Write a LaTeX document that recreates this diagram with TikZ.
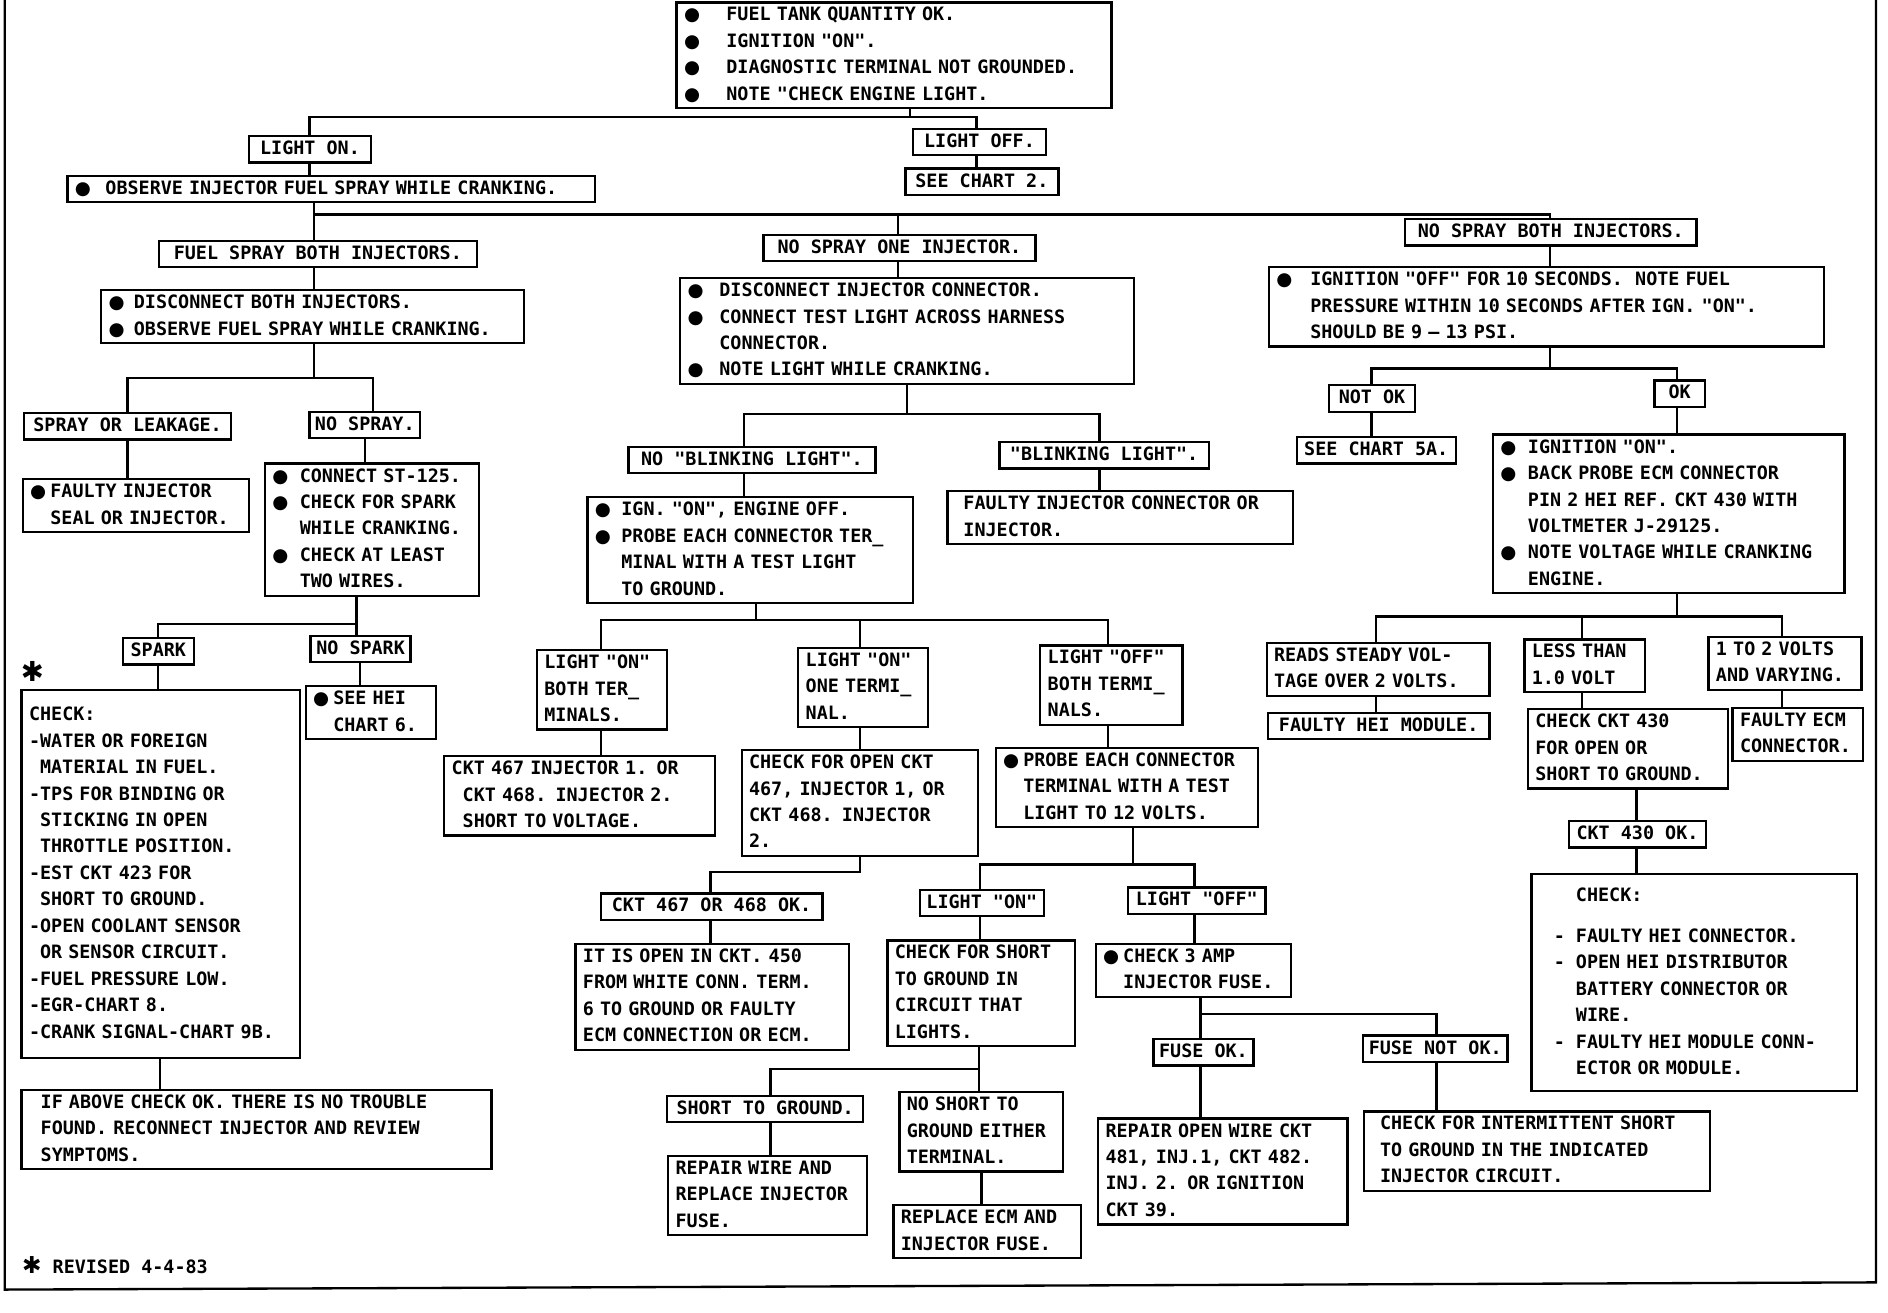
\documentclass[tikz,border=0pt]{standalone}
\usepackage{fontspec}
\setmainfont{DejaVu Sans Mono}[Ligatures=TeXOff]
\newfontfamily\symfont{DejaVu Sans}
\newcommand{\chartfont}{\fontsize{8.7}{12.5}\selectfont\bfseries}
\newcommand{\bl}[1][12.5pt]{\makebox[#1][l]{{\symfont ●}}}
\newcommand{\ind}[1][12.5pt]{\hspace*{#1}}
\newcommand{\dl}{\hspace*{7pt}\makebox[10.5pt][l]{-}}
\hyphenpenalty=10000
\exhyphenpenalty=10000
\tikzset{
  box/.style={draw, line width=1.1pt, anchor=north west, align=left,
    inner xsep=3.5pt, inner ysep=0pt, minimum height=0.44cm, font=\chartfont,
    execute at begin node=\strut, execute at end node=\strut},
  lbl/.style={draw, line width=1.1pt, anchor=north west, align=center,
    inner xsep=2pt, inner ysep=0pt, minimum height=0.44cm, font=\chartfont,
    execute at begin node=\strut},
  line/.style={line width=1.1pt},
  tw/.code={\pgfmathsetlengthmacro\bxw{#1*0.02cm-7pt}\tikzset{text width/.expanded=\bxw}},
  wd/.code={\pgfmathsetlengthmacro\bxw{#1*0.02cm}\tikzset{minimum width/.expanded=\bxw}}
}

\begin{document}
\begin{tikzpicture}[x=0.02cm, y=-0.02cm]
  \useasboundingbox (0,0) rectangle (1568,1090);
  % frame
  \draw[line] (4,0) -- (4,1071) -- (1558,1065) -- (1558,0);

  % top
  \node[box, tw=361] (top) at (561,1) {\bl[20pt]FUEL TANK QUANTITY OK.\\ \bl[20pt]IGNITION "ON".\\
    \bl[20pt]DIAGNOSTIC TERMINAL NOT GROUNDED.\\ \bl[20pt]NOTE "CHECK ENGINE LIGHT.};
  \node[lbl, wd=101] (lon) at (206,112) {LIGHT ON.};
  \node[lbl, wd=111] (loff) at (757,106) {LIGHT OFF.};
  \node[lbl, wd=127] (sc2) at (751,139) {SEE CHART 2.};
  \node[box, tw=438] (obs) at (55,145) {\bl[14.5pt]OBSERVE INJECTOR FUEL SPRAY WHILE CRANKING.};

  % left column
  \node[lbl, wd=264] (fsb) at (131,199) {FUEL SPRAY BOTH INJECTORS.};
  \node[box, tw=351] (dbi) at (83,240) {\bl[12pt]DISCONNECT BOTH INJECTORS.\\ \bl[12pt]OBSERVE FUEL SPRAY WHILE CRANKING.};
  \node[lbl, wd=172] (sol) at (19,342) {SPRAY OR LEAKAGE.};
  \node[lbl, wd=92] (nsp) at (256,341) {NO SPRAY.};
  \node[box, tw=188] (fis) at (18,397) {\bl[9.5pt]FAULTY INJECTOR\\ \ind[9.5pt]SEAL OR INJECTOR.};
  \node[box, tw=178] (cst) at (219,384) {\bl[13pt]CONNECT ST-125.\\ \bl[13pt]CHECK FOR SPARK\\
    \ind[13pt]WHILE CRANKING.\\ \bl[13pt]CHECK AT LEAST\\ \ind[13pt]TWO WIRES.};
  \node[lbl, wd=59] (spk) at (101,529) {SPARK};
  \node[lbl, wd=83] (nspk) at (257,527) {NO SPARK};
  \node[font={\fontsize{13}{14}\selectfont\symfont\bfseries}, inner sep=0pt] (star) at (27,558) {✱};
  \node[box, tw=231, minimum height=6.12cm] (chk) at (17,572) {CHECK:\\ -WATER OR FOREIGN\\
    \ind[5.2pt]MATERIAL IN FUEL.\\ -TPS FOR BINDING OR\\ \ind[5.2pt]STICKING IN OPEN\\
    \ind[5.2pt]THROTTLE POSITION.\\ -EST CKT 423 FOR\\ \ind[5.2pt]SHORT TO GROUND.\\
    -OPEN COOLANT SENSOR\\ \ind[5.2pt]OR SENSOR CIRCUIT.\\ -FUEL PRESSURE LOW.\\
    -EGR-CHART 8.\\ -CRANK SIGNAL-CHART 9B.};
  \node[box, tw=108] (shei) at (253,569) {\bl[9.5pt]SEE HEI\\ \ind[9.5pt]CHART 6.};
  \node[box, tw=371, inner xsep=9pt] (ifab) at (17,904) {IF ABOVE CHECK OK. THERE IS NO TROUBLE\\
    FOUND. RECONNECT INJECTOR AND REVIEW\\ SYMPTOMS.};
  \node[anchor=west, inner sep=0pt, font=\chartfont] (rev) at (18,1051) {{\fontsize{11}{12}\selectfont\symfont ✱} REVISED 4-4-83};

  % middle column
  \node[lbl, wd=226] (nso) at (633,194) {NO SPRAY ONE INJECTOR.};
  \node[box, tw=377] (dic) at (564,230) {\bl[15pt]DISCONNECT INJECTOR CONNECTOR.\\
    \bl[15pt]CONNECT TEST LIGHT ACROSS HARNESS\\ \ind[15pt]CONNECTOR.\\ \bl[15pt]NOTE LIGHT WHILE CRANKING.};
  \node[lbl, wd=205] (nbl) at (521,370) {NO "BLINKING LIGHT".};
  \node[lbl, wd=174] (bli) at (829,366) {"BLINKING LIGHT".};
  \node[box, tw=287] (fic) at (786,407) {\ind[4pt]FAULTY INJECTOR CONNECTOR OR\\ \ind[4pt]INJECTOR.};
  \node[box, tw=270] (ign) at (487,412) {\bl IGN. "ON", ENGINE OFF.\\ \bl PROBE EACH CONNECTOR TER\_\\
    \ind MINAL WITH A TEST LIGHT\\ \ind TO GROUND.};
  \node[box, tw=108] (lob) at (445,539) {LIGHT "ON"\\ BOTH TER\_\\ MINALS.};
  \node[box, tw=108] (loo) at (662,537) {LIGHT "ON"\\ ONE TERMI\_\\ NAL.};
  \node[box, tw=118] (lfb) at (863,535) {LIGHT "OFF"\\ BOTH TERMI\_\\ NALS.};
  \node[box, tw=225] (c467) at (368,627) {CKT 467 INJECTOR 1. OR\\ \ind[5.2pt]CKT 468. INJECTOR 2.\\
    \ind[5.2pt]SHORT TO VOLTAGE.};
  \node[box, tw=196] (cfo) at (615,622) {CHECK FOR OPEN CKT\\ 467, INJECTOR 1, OR\\ CKT 468. INJECTOR\\ 2.};
  \node[box, tw=218] (pec) at (826,620) {\bl[9.5pt]PROBE EACH CONNECTOR\\ \ind[9.5pt]TERMINAL WITH A TEST\\
    \ind[9.5pt]LIGHT TO 12 VOLTS.};
  \node[lbl, wd=184] (c468ok) at (498,741) {CKT 467 OR 468 OK.};
  \node[box, tw=227] (iso) at (477,783) {IT IS OPEN IN CKT. 450\\ FROM WHITE CONN. TERM.\\
    6 TO GROUND OR FAULTY\\ ECM CONNECTION OR ECM.};
  \node[lbl, wd=103] (lon2) at (763,738) {LIGHT "ON"};
  \node[lbl, wd=114] (loff2) at (936,736) {LIGHT "OFF"};
  \node[box, tw=156] (cfs) at (736,780) {CHECK FOR SHORT\\ TO GROUND IN\\ CIRCUIT THAT\\ LIGHTS.};
  \node[box, tw=162] (c3a) at (909,783) {\bl[9.5pt]CHECK 3 AMP\\ \ind[9.5pt]INJECTOR FUSE.};
  \node[lbl, wd=163] (stg) at (553,909) {SHORT TO GROUND.};
  \node[box, tw=165] (rwa) at (554,959) {REPAIR WIRE AND\\ REPLACE INJECTOR\\ FUSE.};
  \node[box, tw=136] (nst) at (746,906) {NO SHORT TO\\ GROUND EITHER\\ TERMINAL.};
  \node[box, tw=156] (rei) at (741,1000) {REPLACE ECM AND\\ INJECTOR FUSE.};
  \node[lbl, wd=83] (fok) at (957,862) {FUSE OK.};
  \node[box, tw=207] (row) at (911,928) {REPAIR OPEN WIRE CKT\\ 481, INJ.1, CKT 482.\\
    INJ. 2. OR IGNITION\\ CKT 39.};
  \node[lbl, wd=120] (fnok) at (1131,859) {FUSE NOT OK.};
  \node[box, tw=287] (cfi) at (1132,922) {\ind[4pt]CHECK FOR INTERMITTENT SHORT\\
    \ind[4pt]TO GROUND IN THE INDICATED\\ \ind[4pt]INJECTOR CIRCUIT.};

  % right column
  \node[lbl, wd=242] (nsb) at (1166,181) {NO SPRAY BOTH INJECTORS.};
  \node[box, tw=461] (ign10) at (1053,221) {\bl[16pt]IGNITION "OFF" FOR 10 SECONDS.\ \ NOTE FUEL\\
    \ind[16pt]PRESSURE WITHIN 10 SECONDS AFTER IGN. "ON".\\ \ind[16pt]SHOULD BE 9 – 13 PSI.};
  \node[lbl, wd=71] (nok) at (1103,319) {NOT OK};
  \node[lbl, wd=132] (sc5) at (1076,362) {SEE CHART 5A.};
  \node[lbl, wd=42] (ok) at (1373,315) {OK};
  \node[box, tw=292] (ion) at (1239,360) {\bl[13pt]IGNITION "ON".\\ \bl[13pt]BACK PROBE ECM CONNECTOR\\
    \ind[13pt]PIN 2 HEI REF. CKT 430 WITH\\ \ind[13pt]VOLTMETER J-29125.\\
    \bl[13pt]NOTE VOLTAGE WHILE CRANKING\\ \ind[13pt]ENGINE.};
  \node[box, tw=185] (rsv) at (1051,533) {READS STEADY VOL-\\ TAGE OVER 2 VOLTS.};
  \node[lbl, wd=184] (fhm) at (1052,591) {FAULTY HEI MODULE.};
  \node[box, tw=100] (ltv) at (1265,530) {LESS THAN\\ 1.0 VOLT};
  \node[box, tw=166] (cck) at (1268,588) {CHECK CKT 430\\ FOR OPEN OR\\ SHORT TO GROUND.};
  \node[box, tw=127] (otv) at (1418,528) {1 TO 2 VOLTS\\ AND VARYING.};
  \node[box, tw=108] (fec) at (1438,587) {FAULTY ECM\\ CONNECTOR.};
  \node[lbl, wd=114] (c430ok) at (1302,681) {CKT 430 OK.};
  \node[box, tw=270, minimum height=3.6cm] (chk2) at (1271,725) {\ind[17.5pt]CHECK:\\[7pt]
    \dl FAULTY HEI CONNECTOR.\\ \dl OPEN HEI DISTRIBUTOR\\ \ind[17.5pt]BATTERY CONNECTOR OR\\
    \ind[17.5pt]WIRE.\\ \dl FAULTY HEI MODULE CONN-\\ \ind[17.5pt]ECTOR OR MODULE.};

  % light on / off
  \draw[line] (top.south -| 756,0) -- (756,97);
  \draw[line] (lon.north -| 257,0) -- (257,97) -- (811,97) -- (loff.north -| 811,0);
  \draw[line] (lon.south -| 257,0) -- (obs.north -| 257,0);
  \draw[line] (loff.south -| 811,0) -- (sc2.north -| 811,0);
  % spray branches
  \draw[line] (obs.south -| 261,0) -- (261,178);
  \draw[line] (fsb.north -| 261,0) -- (261,178) -- (1287,178) -- (nsb.north -| 1287,0);
  \draw[line] (746,178) -- (nso.north -| 746,0);
  % fuel spray both injectors
  \draw[line] (fsb.south -| 261,0) -- (dbi.north -| 261,0);
  \draw[line] (dbi.south -| 261,0) -- (261,314);
  \draw[line] (sol.north -| 106,0) -- (106,314) -- (310,314) -- (nsp.north -| 310,0);
  \draw[line] (sol.south -| 106,0) -- (fis.north -| 106,0);
  \draw[line] (nsp.south -| 303,0) -- (cst.north -| 303,0);
  \draw[line] (cst.south -| 296,0) -- (296,518);
  \draw[line] (spk.north -| 131,0) -- (131,518) -- (296,518) -- (nspk.north -| 296,0);
  \draw[line] (spk.south -| 131,0) -- (chk.north -| 131,0);
  \draw[line] (nspk.south -| 299,0) -- (shei.north -| 299,0);
  \draw[line] (chk.south -| 133,0) -- (ifab.north -| 133,0);
  % no spray one injector
  \draw[line] (nso.south -| 746,0) -- (dic.north -| 746,0);
  \draw[line] (dic.south -| 753,0) -- (753,344);
  \draw[line] (nbl.north -| 618,0) -- (618,344) -- (913,344) -- (bli.north -| 913,0);
  \draw[line] (nbl.south -| 618,0) -- (ign.north -| 618,0);
  \draw[line] (bli.south -| 913,0) -- (fic.north -| 913,0);
  \draw[line] (ign.south -| 628,0) -- (628,515);
  \draw[line] (lob.north -| 499,0) -- (499,515) -- (920,515) -- (lfb.north -| 920,0);
  \draw[line] (714,515) -- (loo.north -| 714,0);
  \draw[line] (lob.south -| 499,0) -- (c467.north -| 499,0);
  \draw[line] (loo.south -| 714,0) -- (cfo.north -| 714,0);
  \draw[line] (lfb.south -| 920,0) -- (pec.north -| 920,0);
  \draw[line] (cfo.south -| 714,0) -- (714,724) -- (590,724) -- (c468ok.north -| 590,0);
  \draw[line] (c468ok.south -| 590,0) -- (iso.north -| 590,0);
  \draw[line] (pec.south -| 941,0) -- (941,718);
  \draw[line] (lon2.north -| 814,0) -- (814,718) -- (992,718) -- (loff2.north -| 992,0);
  \draw[line] (lon2.south -| 814,0) -- (cfs.north -| 814,0);
  \draw[line] (loff2.south -| 992,0) -- (c3a.north -| 992,0);
  \draw[line] (cfs.south -| 813,0) -- (813,888);
  \draw[line] (stg.north -| 640,0) -- (640,888) -- (813,888) -- (nst.north -| 813,0);
  \draw[line] (stg.south -| 640,0) -- (rwa.north -| 640,0);
  \draw[line] (nst.south -| 815,0) -- (rei.north -| 815,0);
  \draw[line] (c3a.south -| 997,0) -- (fok.north -| 997,0);
  \draw[line] (997,842) -- (1193,842) -- (fnok.north -| 1193,0);
  \draw[line] (fok.south -| 997,0) -- (row.north -| 997,0);
  \draw[line] (fnok.south -| 1193,0) -- (cfi.north -| 1193,0);
  % no spray both injectors
  \draw[line] (nsb.south -| 1287,0) -- (ign10.north -| 1287,0);
  \draw[line] (ign10.south -| 1287,0) -- (1287,306);
  \draw[line] (nok.north -| 1139,0) -- (1139,306) -- (1393,306) -- (ok.north -| 1393,0);
  \draw[line] (nok.south -| 1139,0) -- (sc5.north -| 1139,0);
  \draw[line] (ok.south -| 1393,0) -- (ion.north -| 1393,0);
  \draw[line] (ion.south -| 1393,0) -- (1393,512);
  \draw[line] (rsv.north -| 1143,0) -- (1143,512) -- (1480,512) -- (otv.north -| 1480,0);
  \draw[line] (1314,512) -- (ltv.north -| 1314,0);
  \draw[line] (rsv.south -| 1143,0) -- (fhm.north -| 1143,0);
  \draw[line] (ltv.south -| 1314,0) -- (cck.north -| 1314,0);
  \draw[line] (otv.south -| 1480,0) -- (fec.north -| 1480,0);
  \draw[line] (cck.south -| 1359,0) -- (c430ok.north -| 1359,0);
  \draw[line] (c430ok.south -| 1359,0) -- (chk2.north -| 1359,0);
\end{tikzpicture}
\end{document}
